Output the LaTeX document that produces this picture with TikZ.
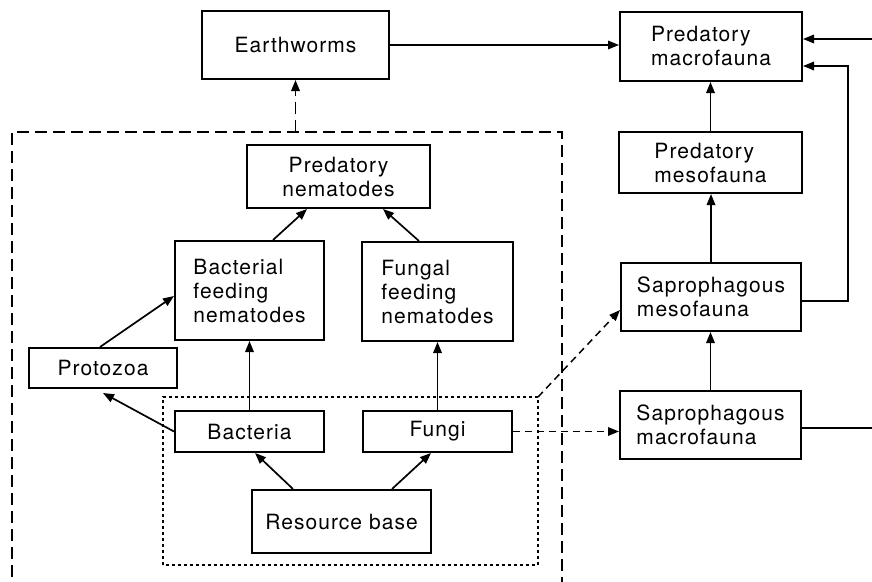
\documentclass[tikz,border=0pt]{standalone}
\usepackage{fontspec}
\setmainfont{TeX Gyre Heros}[LetterSpace=5]
\usepackage{tikz}
\usetikzlibrary{arrows.meta, positioning}

\begin{document}
\begin{tikzpicture}[x=1pt, y=-1pt,
    every node/.style={font=\fontsize{21}{24}\selectfont},
    box/.style={draw, line width=2pt, inner sep=0pt, align=left},
    arr/.style={-{Triangle[length=11pt,width=8.5pt]}, line width=1.7pt},
    darr/.style={-{Triangle[length=11pt,width=8.5pt]}, line width=1.5pt, dash pattern=on 7pt off 5pt},
    longdash/.style={line width=1.8pt, dash pattern=on 12pt off 6pt},
    shortdash/.style={line width=1.4pt, dash pattern=on 3pt off 3pt}
]
\useasboundingbox (0,0) rectangle (872,581);

% Macrofauna / mesofauna column
\node[box, minimum width=182pt, minimum height=69pt] (pmacro) at (711,46.5) {Predatory\\macrofauna};
\node[box, minimum width=183pt, minimum height=61pt] (pmeso) at (710.5,162.5) {Predatory\\mesofauna};
\node[box, minimum width=180pt, minimum height=68pt] (smeso) at (711,297) {Saprophagous\\mesofauna};
\node[box, minimum width=181pt, minimum height=68pt] (smacro) at (710.5,425) {Saprophagous\\macrofauna};

% Soil microfauna web
\node[box, minimum width=187pt, minimum height=68pt] (earth) at (295.5,45) {Earthworms};
\node[box, minimum width=183pt, minimum height=63pt, align=center] (pnem) at (338.5,176.5) {Predatory\\nematodes};
\node[box, minimum width=149pt, minimum height=99pt] (bnem) at (249.5,290.5) {Bacterial\\feeding\\nematodes};
\node[box, minimum width=151pt, minimum height=99pt] (fnem) at (437.5,291.5) {Fungal\\feeding\\nematodes};
\node[box, minimum width=148pt, minimum height=40pt] (proto) at (103,368) {Protozoa};
\node[box, minimum width=149pt, minimum height=41pt] (bact) at (249.5,431.5) {Bacteria};
\node[box, minimum width=149pt, minimum height=41pt] (fungi) at (437.5,431.5) {Fungi};
\node[box, minimum width=179pt, minimum height=63pt] (res) at (341.5,521.5) {Resource base};

% Frames
\coordinate (bigSW) at (12,595);
\coordinate (bigNW) at (12,132);
\coordinate (bigNE) at (562,132);
\coordinate (bigSE) at (562,595);
\draw[longdash] (bigSW) -- (bigNW) -- (bigNE) -- (bigSE);
\coordinate (dotSW) at (163,565);
\coordinate (dotNE) at (538,397);
\draw[shortdash] (dotSW) rectangle (dotNE);

% Free ends at the right margin
\coordinate (inR) at (872,39);
\coordinate (outR) at (872,428);
\coordinate (bend) at (848,66);

% Right column links
\draw[arr] (earth.east) -- (earth.east -| pmacro.west);
\draw[arr] (inR) -- (inR -| pmacro.east);
\draw[arr] ([yshift=-4pt]smeso.east) -| (bend) -- (bend -| pmacro.east);
\draw[arr] (pmeso.north) -- (pmeso.north |- pmacro.south);
\draw[arr] (smeso.north) -- (smeso.north |- pmeso.south);
\draw[arr] (smacro.north) -- (smacro.north |- smeso.south);
\draw[line width=1.7pt] ([yshift=-3pt]smacro.east) -- (outR);

% Inner links
\draw[arr, longdash] (earth.south |- bigNW) -- (earth.south);
\draw[arr] ([xshift=23.5pt]bnem.north) -- ([xshift=-31.5pt]pnem.south);
\draw[arr] ([xshift=-18.5pt]fnem.north) -- ([xshift=44.5pt]pnem.south);
\draw[arr] ([xshift=-3pt]proto.north) -- ([yshift=-5.5pt]bnem.west);
\draw[arr] (bact.west) -- ([yshift=-4pt]proto.south);
\draw[arr] (bact.north) -- (bact.north |- bnem.south);
\draw[arr] (fungi.north) -- (fungi.north |- fnem.south);
\draw[arr] ([xshift=-48.5pt]res.north) -- ([xshift=5.5pt]bact.south);
\draw[arr] ([xshift=50.5pt]res.north) -- ([xshift=-6.5pt]fungi.south);

% Dashed links to the mesofauna / macrofauna
\draw[darr] (dotNE) -- ([yshift=-13pt]smeso.west);
\draw[darr] (fungi.east) -- (fungi.east -| smacro.west);

\end{tikzpicture}
\end{document}
